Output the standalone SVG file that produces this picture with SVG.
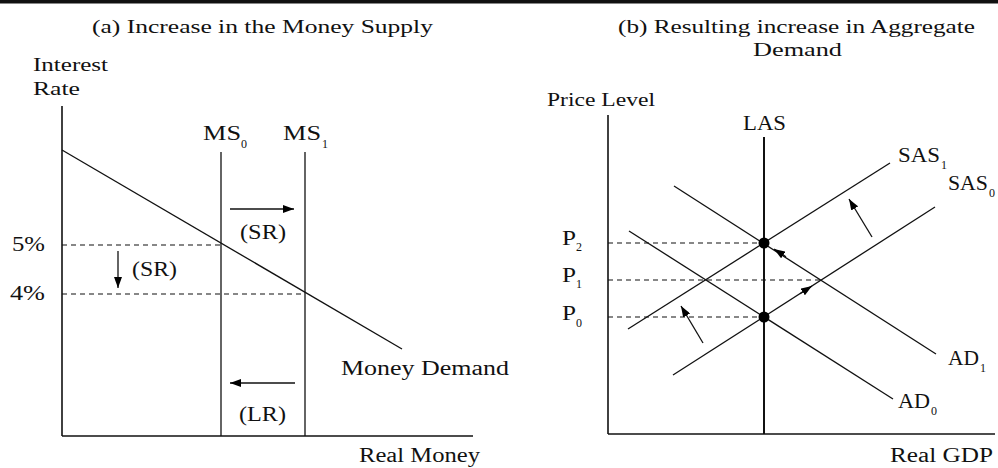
<svg xmlns="http://www.w3.org/2000/svg" width="998" height="468" viewBox="0 0 998 468">
<defs>
<marker id="ah" markerUnits="userSpaceOnUse" markerWidth="11" markerHeight="8" refX="11" refY="4" orient="auto">
<path d="M0,0 L11,4 L0,8 z" fill="#000"/>
</marker>
<style>
text{font-family:"Liberation Serif","Times New Roman",serif;fill:#111;font-size:20px}
.t{font-size:19px}
.s{font-size:12px}
.ln{stroke:#111;stroke-width:1.3;fill:none}
.ax{stroke:#111;stroke-width:1.6;fill:none}
.d{stroke:#111;stroke-width:1.2;stroke-dasharray:5 4;fill:none}
.ar{stroke:#111;stroke-width:1.3;fill:none;marker-end:url(#ah)}
</style>
</defs>
<rect x="0" y="0" width="998" height="468" fill="#fff"/>
<rect x="0" y="0" width="998" height="3.5" fill="#111"/>

<g id="panel-a">
<text class="t" x="92" y="33" textLength="341" lengthAdjust="spacingAndGlyphs">(a) Increase in the Money Supply</text>
<text class="t" x="33" y="71" textLength="75" lengthAdjust="spacingAndGlyphs">Interest</text>
<text class="t" x="33" y="95" textLength="47" lengthAdjust="spacingAndGlyphs">Rate</text>
<g id="axes-a">
<line class="ax" x1="62" y1="106" x2="62" y2="436"/>
<line class="ax" x1="62" y1="436" x2="473" y2="436"/>
<text x="359" y="462" textLength="121" lengthAdjust="spacingAndGlyphs">Real Money</text>
</g>
<g id="money-demand">
<line class="ln" x1="62" y1="150" x2="402" y2="349"/>
<text x="341" y="375" textLength="168" lengthAdjust="spacingAndGlyphs">Money Demand</text>
</g>
<g id="ms0">
<line class="ln" x1="221" y1="152" x2="221" y2="436"/>
<text x="203" y="140" textLength="38" lengthAdjust="spacingAndGlyphs">MS</text>
<text class="s" x="241" y="148">0</text>
</g>
<g id="ms1">
<line class="ln" x1="305" y1="152" x2="305" y2="436"/>
<text x="283" y="140" textLength="38" lengthAdjust="spacingAndGlyphs">MS</text>
<text class="s" x="322" y="148">1</text>
</g>
<g id="rates">
<line class="d" x1="62" y1="245" x2="221" y2="245"/>
<line class="d" x1="62" y1="294" x2="305" y2="294"/>
<text x="12" y="251" textLength="33" lengthAdjust="spacingAndGlyphs">5%</text>
<text x="10" y="300" textLength="35" lengthAdjust="spacingAndGlyphs">4%</text>
</g>
<g id="connectors-a">
<line class="ar" x1="118" y1="251" x2="118" y2="288"/>
<line class="ar" x1="230" y1="209" x2="294" y2="209"/>
<line class="ar" x1="295" y1="383" x2="230" y2="383"/>
</g>
<text x="132" y="276" textLength="45" lengthAdjust="spacingAndGlyphs">(SR)</text>
<text x="240" y="239" textLength="46" lengthAdjust="spacingAndGlyphs">(SR)</text>
<text x="239" y="421" textLength="47" lengthAdjust="spacingAndGlyphs">(LR)</text>
</g>

<g id="panel-b">
<text class="t" x="618" y="33" textLength="357" lengthAdjust="spacingAndGlyphs">(b) Resulting increase in Aggregate</text>
<text class="t" x="753" y="56" textLength="89" lengthAdjust="spacingAndGlyphs">Demand</text>
<text class="t" x="547" y="106" textLength="108" lengthAdjust="spacingAndGlyphs">Price Level</text>
<g id="axes-b">
<line class="ax" x1="608" y1="115" x2="608" y2="434"/>
<line class="ax" x1="608" y1="434" x2="995" y2="434"/>
<text x="890" y="462" textLength="103" lengthAdjust="spacingAndGlyphs">Real GDP</text>
</g>
<g id="prices">
<line class="d" x1="608" y1="243" x2="764" y2="243"/>
<line class="d" x1="608" y1="280" x2="822" y2="280"/>
<line class="d" x1="608" y1="317" x2="764" y2="317"/>
<text x="562" y="245" textLength="14" lengthAdjust="spacingAndGlyphs">P</text>
<text class="s" x="576" y="251">2</text>
<text x="562" y="282" textLength="14" lengthAdjust="spacingAndGlyphs">P</text>
<text class="s" x="576" y="288">1</text>
<text x="562" y="320" textLength="14" lengthAdjust="spacingAndGlyphs">P</text>
<text class="s" x="576" y="327">0</text>
</g>
<g id="las">
<line x1="764" y1="137" x2="764" y2="434" stroke="#111" stroke-width="2"/>
<text x="743" y="130" textLength="43" lengthAdjust="spacingAndGlyphs">LAS</text>
</g>
<g id="sas1">
<line class="ln" x1="628" y1="329" x2="890" y2="163"/>
<text x="898" y="162" textLength="42" lengthAdjust="spacingAndGlyphs">SAS</text>
<text class="s" x="941" y="169">1</text>
</g>
<g id="sas0">
<line class="ln" x1="673" y1="375" x2="935" y2="207"/>
<text x="948" y="190" textLength="40" lengthAdjust="spacingAndGlyphs">SAS</text>
<text class="s" x="989" y="197">0</text>
</g>
<g id="ad1">
<line class="ln" x1="674" y1="186" x2="936" y2="354"/>
<text x="948" y="365" textLength="31" lengthAdjust="spacingAndGlyphs">AD</text>
<text class="s" x="980" y="372">1</text>
</g>
<g id="ad0">
<line class="ln" x1="629" y1="231" x2="893" y2="399"/>
<text x="898" y="408" textLength="32" lengthAdjust="spacingAndGlyphs">AD</text>
<text class="s" x="931" y="415">0</text>
</g>
<g id="equilibria">
<circle cx="764" cy="243" r="5.5" fill="#000"/>
<circle cx="764" cy="317" r="5.5" fill="#000"/>
</g>
<g id="connectors-b">
<line class="ar" x1="872" y1="237" x2="849" y2="199"/>
<line class="ar" x1="703" y1="343" x2="681" y2="306"/>
<line class="ar" x1="786" y1="256.7" x2="774" y2="249"/>
<line class="ar" x1="800" y1="293.7" x2="812" y2="286"/>
</g>
</g>
</svg>
